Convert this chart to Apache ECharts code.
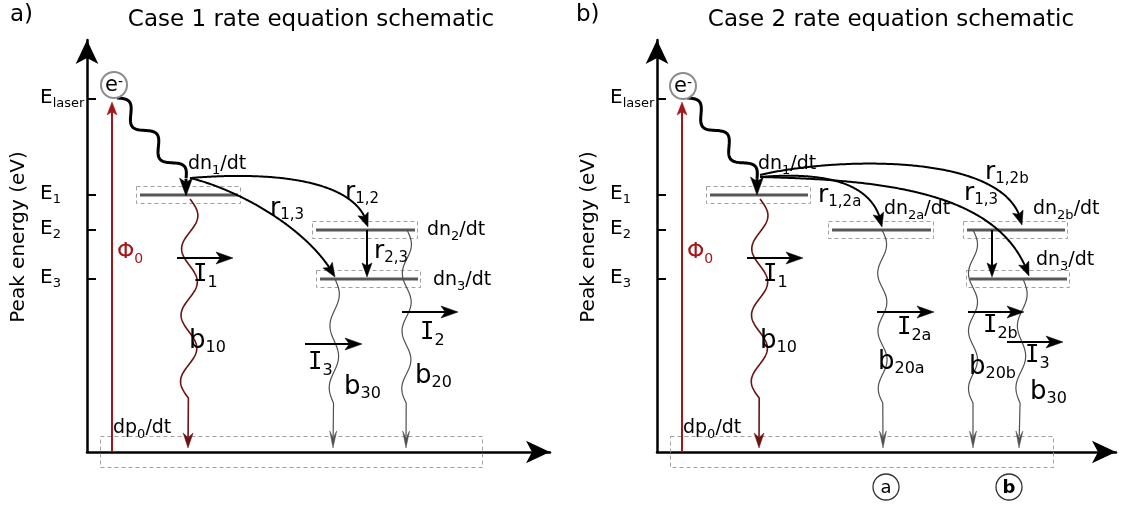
<!DOCTYPE html>
<html>
<head>
<meta charset="utf-8">
<title>Rate equation schematics</title>
<script src="https://cdn.jsdelivr.net/npm/echarts@6.0.0/dist/echarts.min.js"></script>
<style>
html,body{margin:0;padding:0;background:#fff;}
#chart{width:1122px;height:505px;}
</style>
</head>
<body>
<div id="chart"></div>
<script>
// ===================== DATA =====================
// schematic units: x = distance to the right of the energy axis,
//                  y = height (energy) above the baseline
const panelTitles = ['Case 1 rate equation schematic', 'Case 2 rate equation schematic'];
const panelLetters = ['a)', 'b)'];
const axisTitle = 'Peak energy (eV)';
const energyTickValues = [353, 257, 222, 173];
const energyTickLabels = ['E_{laser}', 'E_{1}', 'E_{2}', 'E_{3}'];

// ---- panel a (Case 1)
const levelsA = [[53, 151, 257], [229, 328, 222], [233, 331, 173]];          // [xStart, xEnd, energy]
const groundBoxA = [[13, 16, 395, -15]];
const pumpA = [[25, 0, 25, 350]];
const electronA = [[27, 367]];
const relaxWaveA = [[30, 354, 99, 273]];
const relaxHeadA = [[99, 273, 99, 256]];
const decayRedA = [[103, 253, 101, 4]];
const decayGreyA = [[248, 173, 246, 4], [320, 222, 319, 4]];
const fluxArrowsA = [[90, 194, 146, 194], [218, 108, 275, 108], [315, 140, 371, 140]];
const transferArrowsA = [[280, 222, 280, 175]];
const rateCurvesA = [
  [103, 274, 203, 282, 273, 267, 281, 225],
  [103, 274, 153, 262, 223, 222, 248, 175]
];
const dnTextA = ['dn_{1}/dt', 'dn_{2}/dt', 'dn_{3}/dt'];
const dnPosA = [[101, 289], [340, 223], [346, 173]];
const rateTextA = ['r_{1,2}', 'r_{1,3}', 'r_{2,3}'];
const ratePosA = [[258, 260], [183, 244], [287, 201]];
const bigTextA = ['I_{1}', 'b_{10}', 'I_{3}', 'b_{30}', 'I_{2}', 'b_{20}'];
const bigPosA = [[106, 175], [102, 110], [221, 87], [257, 64], [333, 117], [328, 75]];

// ---- panel b (Case 2)
const levelsB = [[53, 151, 257], [175, 274, 222], [310, 408, 222], [313, 410, 173]];
const groundBoxB = [[13, 16, 396, -15]];
const pumpB = [[25, 0, 25, 350]];
const electronB = [[26, 366]];
const relaxWaveB = [[30, 354, 100, 273]];
const relaxHeadB = [[100, 273, 100, 257]];
const decayRedB = [[103, 253, 102, 4]];
const decayGreyB = [[225, 222, 226, 4], [316, 222, 316, 4], [366, 173, 362, 4]];
const fluxArrowsB = [[90, 194, 146, 194], [220, 140, 277, 140], [311, 140, 367, 140], [350, 110, 406, 110]];
const transferArrowsB = [[335, 222, 335, 175]];
const rateCurvesB = [
  [103, 275, 163, 280, 218, 272, 225, 225],
  [103, 277, 173, 294, 353, 302, 365, 227],
  [103, 275, 223, 272, 343, 262, 372, 176]
];
const dnTextB = ['dn_{1}/dt', 'dn_{2a}/dt', 'dn_{2b}/dt', 'dn_{3}/dt'];
const dnPosB = [[101, 289], [227, 244], [376, 244], [379, 193]];
const rateTextB = ['r_{1,2a}', 'r_{1,3}', 'r_{1,2b}'];
const ratePosB = [[161, 257], [307, 259], [328, 280]];
const bigTextB = ['I_{1}', 'b_{10}', 'I_{2a}', 'b_{20a}', 'I_{2b}', 'b_{20b}', 'I_{3}', 'b_{30}'];
const bigPosB = [[106, 175], [103, 110], [240, 122], [221, 89], [326, 124], [312, 84], [368, 94], [373, 59]];
const pathMarkerText = ['a', 'b'];
const pathMarkerPos = [[229, -35], [352, -35]];

// shared labels
const phiText = ['Φ_{0}'];
const phiPos = [[30, 199]];
const dpText = ['dp_{0}/dt'];
const dpPos = [[26, 25]];
const electronText = ['e^{-}'];
const axisTitlePos = [[-67, 215]];

// ===================== RENDERING =====================
const FONT = "'DejaVu Sans', Verdana, sans-serif";
const RED = '#a3171b';
const DARKRED = '#6b1414';

function toRich(str, serifI) {
  let out = '', last = 0, m;
  const re = /([_^])\{([^}]*)\}/g;
  const main = t => serifI ? t.split('I').map(x => x ? '{m|' + x + '}' : '').join('{i|I}') : '{m|' + t + '}';
  while ((m = re.exec(str))) {
    if (m.index > last) out += main(str.slice(last, m.index));
    out += '{' + (m[1] === '_' ? 's' : 'p') + '|' + m[2] + '}';
    last = re.lastIndex;
  }
  if (last < str.length) out += main(str.slice(last));
  return out;
}
function richStyles(F, S, color, weight, zr) {
  const LH = Math.round(S + 5 + 0.7 * (F - S));
  const key = zr ? 'fill' : 'color';
  const mk = (size, lh, va, fam) => {
    const o = { fontSize: size, fontFamily: fam || FONT, lineHeight: lh, verticalAlign: va, fontWeight: weight || 'normal' };
    o[key] = color;
    return o;
  };
  return { m: mk(F, LH, 'top'), i: mk(F * 0.92, LH, 'top', "'DejaVu Sans Mono', monospace"), s: mk(S, S, 'bottom'), p: mk(S, S, 'top') };
}
function base(gi, z) {
  return { type: 'custom', coordinateSystem: 'cartesian2d', xAxisIndex: gi, yAxisIndex: gi,
    silent: true, animation: false, clip: false, z: z || 5 };
}
function head(tip, ux, uy, len, wid, notch, color) {
  const nx = -uy, ny = ux;
  const bx = tip[0] - ux * len, by = tip[1] - uy * len;
  const qx = tip[0] - ux * len * notch, qy = tip[1] - uy * len * notch;
  return { type: 'polygon', shape: { points: [tip, [bx + nx * wid / 2, by + ny * wid / 2], [qx, qy], [bx - nx * wid / 2, by - ny * wid / 2]] },
    style: { fill: color, stroke: color, lineWidth: 0.5 } };
}
function levelSeries(gi, data) {
  return Object.assign(base(gi, 3), { data, renderItem(p, api) {
    const a = api.coord([api.value(0), api.value(2)]), b = api.coord([api.value(1), api.value(2)]);
    return { type: 'group', children: [
      { type: 'rect', shape: { x: Math.round(a[0]) - 3.5, y: Math.round(a[1]) - 8.5, width: Math.round(b[0] - a[0]) + 6, height: 17 },
        style: { fill: 'none', stroke: '#a0a0a0', lineWidth: 1, lineDash: [4, 3] } },
      { type: 'line', shape: { x1: a[0], y1: a[1], x2: b[0], y2: b[1] }, style: { stroke: '#575757', lineWidth: 3.2 } }
    ] };
  } });
}
function boxSeries(gi, data) {
  return Object.assign(base(gi, 2), { data, renderItem(p, api) {
    const a = api.coord([api.value(0), api.value(1)]), b = api.coord([api.value(2), api.value(3)]);
    return { type: 'rect', shape: { x: Math.round(a[0]) + 0.5, y: Math.round(a[1]) + 0.5, width: Math.round(b[0] - a[0]), height: Math.round(b[1] - a[1]) },
      style: { fill: 'none', stroke: '#a0a0a0', lineWidth: 1, lineDash: [4, 3] } };
  } });
}
function arrowSeries(gi, data, o) {
  return Object.assign(base(gi, o.z || 6), { data, renderItem(p, api) {
    const a = api.coord([api.value(0), api.value(1)]), b = api.coord([api.value(2), api.value(3)]);
    const dx = b[0] - a[0], dy = b[1] - a[1], L = Math.hypot(dx, dy), ux = dx / L, uy = dy / L;
    const e = [b[0] - ux * o.len * 0.7, b[1] - uy * o.len * 0.7];
    return { type: 'group', children: [
      { type: 'line', shape: { x1: a[0], y1: a[1], x2: e[0], y2: e[1] }, style: { stroke: o.color, lineWidth: o.width } },
      head(b, ux, uy, o.len, o.wid, o.notch, o.color)
    ] };
  } });
}
function waveSeries(gi, data, o) {
  return Object.assign(base(gi, o.z || 4), { data, renderItem(p, api) {
    const a = api.coord([api.value(0), api.value(1)]), b = api.coord([api.value(2), api.value(3)]);
    const dx = b[0] - a[0], dy = b[1] - a[1], L = Math.hypot(dx, dy), ux = dx / L, uy = dy / L;
    const nx = -uy, ny = ux;
    const Lw = Math.max(10, L - o.tail);
    const n = Math.max(1, Math.round(Lw / (o.wl / 2)));
    const pts = [];
    for (let s = 0; s <= Lw; s += 1) {
      const off = o.sign * o.amp * Math.sin(Math.PI * n * s / Lw);
      pts.push([a[0] + ux * s + nx * off, a[1] + uy * s + ny * off]);
    }
    const endL = o.len ? L - o.len * 0.7 : L;
    if (endL > Lw) pts.push([a[0] + ux * endL, a[1] + uy * endL]);
    const ch = [{ type: 'polyline', shape: { points: pts }, style: { stroke: o.color, lineWidth: o.width, fill: 'none', lineJoin: 'round' } }];
    if (o.len) ch.push(head(b, ux, uy, o.len, o.wid, o.notch, o.color));
    return { type: 'group', children: ch };
  } });
}
function curveSeries(gi, data, o) {
  return Object.assign(base(gi, 6), { data, renderItem(p, api) {
    const P = [0, 2, 4, 6].map(i => api.coord([api.value(i), api.value(i + 1)]));
    const bez = t => {
      const u = 1 - t;
      const c = [u * u * u, 3 * u * u * t, 3 * u * t * t, t * t * t];
      return [c[0] * P[0][0] + c[1] * P[1][0] + c[2] * P[2][0] + c[3] * P[3][0],
              c[0] * P[0][1] + c[1] * P[1][1] + c[2] * P[2][1] + c[3] * P[3][1]];
    };
    const tip = P[3];
    const pts = [];
    let back = null;
    for (let i = 0; i <= 200; i++) {
      const q = bez(i / 200);
      const d = Math.hypot(q[0] - tip[0], q[1] - tip[1]);
      if (d < o.len && !back) back = q;
      if (d < o.len * 0.7) break;
      pts.push(q);
    }
    if (!back) back = P[2];
    const dx = tip[0] - back[0], dy = tip[1] - back[1], L = Math.hypot(dx, dy);
    return { type: 'group', children: [
      { type: 'polyline', shape: { points: pts }, style: { stroke: o.color, lineWidth: o.width, fill: 'none' } },
      head(tip, dx / L, dy / L, o.len, o.wid, o.notch, o.color)
    ] };
  } });
}
function textSeries(gi, pos, texts, o) {
  return Object.assign(base(gi, 10), { data: pos, renderItem(p, api) {
    const q = api.coord([api.value(0), api.value(1)]);
    return { type: 'text', x: q[0] + (o.dx || 0), y: q[1] + (o.dy || 0), rotation: o.rot || 0,
      style: { text: toRich(texts[p.dataIndex], o.serifI), rich: richStyles(o.F, o.S, o.color, o.weight, true),
        fill: o.color, fontSize: o.F, fontFamily: FONT, align: o.align || 'left', verticalAlign: 'middle' } };
  } });
}
function markerSeries(gi, pos, texts, o) {
  return Object.assign(base(gi, 9), { data: pos, renderItem(p, api) {
    const q = api.coord([api.value(0), api.value(1)]);
    const w = o.weights ? o.weights[p.dataIndex] : 'normal';
    return { type: 'group', children: [
      { type: 'circle', shape: { cx: q[0], cy: q[1], r: o.r }, style: { fill: '#fff', stroke: o.stroke, lineWidth: o.lw } },
      { type: 'text', x: q[0] + (o.dx || 0), y: q[1] + (o.dy || 0), style: { text: toRich(texts[p.dataIndex]),
        rich: richStyles(o.F, o.S, '#000', w, true), fill: '#000', fontSize: o.F, fontFamily: FONT,
        align: 'center', verticalAlign: 'middle' } }
    ] };
  } });
}

const styles = {
  pump: { color: RED, width: 2, len: 13, wid: 10, notch: 0.75 },
  flux: { color: '#000', width: 2, len: 17, wid: 12, notch: 0.75 },
  transfer: { color: '#000', width: 2, len: 14, wid: 10, notch: 0.8 },
  relaxHead: { color: '#000', width: 3, len: 18, wid: 13, notch: 0.75 },
  relaxWave: { color: '#000', width: 3, amp: 7, wl: 42, tail: 0, sign: -1 },
  decayRed: { color: DARKRED, width: 1.6, amp: 8, wl: 68, tail: 50, sign: -1, len: 15, wid: 10, notch: 0.7 },
  decayGrey: { color: '#505050', width: 1.2, amp: 4.5, wl: 60, tail: 45, sign: -1, len: 17, wid: 7, notch: 0.6 },
  curve: { color: '#000', width: 2, len: 14, wid: 11, notch: 0.8 },
  dn: { F: 19, S: 13, color: '#000', dy: 3 },
  rate: { F: 25, S: 15, color: '#000', dy: 1 },
  big: { F: 26, S: 16, color: '#000', serifI: true },
  phi: { F: 22, S: 14, color: RED, dy: 1 },
  dp: { F: 19, S: 13, color: '#000', dy: 3 },
  axisTitle: { F: 20, S: 14, color: '#000', rot: Math.PI / 2, align: 'center' },
  electron: { r: 13, stroke: '#8c8c8c', lw: 2, F: 21, S: 14, dy: 2 },
  pathMarker: { r: 13, stroke: '#333', lw: 1.3, F: 18, S: 12, dy: 3, weights: ['normal', 'bold'] }
};

function panelSeries(gi, d) {
  return [
    boxSeries(gi, d.ground),
    levelSeries(gi, d.levels),
    arrowSeries(gi, d.pump, styles.pump),
    waveSeries(gi, d.relaxWave, styles.relaxWave),
    arrowSeries(gi, d.relaxHead, styles.relaxHead),
    waveSeries(gi, d.decayRed, styles.decayRed),
    waveSeries(gi, d.decayGrey, styles.decayGrey),
    arrowSeries(gi, d.flux, styles.flux),
    arrowSeries(gi, d.transfer, styles.transfer),
    curveSeries(gi, d.curves, styles.curve),
    markerSeries(gi, d.electron, electronText, styles.electron),
    textSeries(gi, d.dnPos, d.dnText, styles.dn),
    textSeries(gi, d.ratePos, d.rateText, styles.rate),
    textSeries(gi, d.bigPos, d.bigText, styles.big),
    textSeries(gi, phiPos, phiText, styles.phi),
    textSeries(gi, dpPos, dpText, styles.dp),
    textSeries(gi, axisTitlePos, [axisTitle], styles.axisTitle)
  ];
}

const seriesA = panelSeries(0, { ground: groundBoxA, levels: levelsA, pump: pumpA, relaxWave: relaxWaveA, relaxHead: relaxHeadA,
  decayRed: decayRedA, decayGrey: decayGreyA, flux: fluxArrowsA, transfer: transferArrowsA, curves: rateCurvesA,
  electron: electronA, dnPos: dnPosA, dnText: dnTextA, ratePos: ratePosA, rateText: rateTextA, bigPos: bigPosA, bigText: bigTextA });
const seriesB = panelSeries(1, { ground: groundBoxB, levels: levelsB, pump: pumpB, relaxWave: relaxWaveB, relaxHead: relaxHeadB,
  decayRed: decayRedB, decayGrey: decayGreyB, flux: fluxArrowsB, transfer: transferArrowsB, curves: rateCurvesB,
  electron: electronB, dnPos: dnPosB, dnText: dnTextB, ratePos: ratePosB, rateText: rateTextB, bigPos: bigPosB, bigText: bigTextB });
seriesB.push(markerSeries(1, pathMarkerPos, pathMarkerText, styles.pathMarker));

// axes run from the baseline to the arrow tips
const grids = [
  { left: 87, top: 40, right: 572, bottom: 53 },
  { left: 657, top: 40, right: 6, bottom: 53 }
];
function xAxisFor(gi, max) {
  return { gridIndex: gi, type: 'value', min: 0, max: max,
    axisLine: { show: true, symbol: ['none', 'arrow'], symbolSize: [17, 24], lineStyle: { color: '#000', width: 2.5 } },
    axisTick: { show: false }, axisLabel: { show: false }, splitLine: { show: false } };
}
function yAxisFor(gi) {
  return { gridIndex: gi, type: 'value', min: 0, max: 412,
    axisLine: { show: true, symbol: ['none', 'arrow'], symbolSize: [17, 24], lineStyle: { color: '#000', width: 2.5 } },
    axisTick: { show: true, inside: true, length: 9, customValues: energyTickValues, lineStyle: { color: '#000', width: 2 } },
    axisLabel: { show: true, customValues: energyTickValues, align: 'left', margin: 47,
      formatter: v => { const i = energyTickValues.indexOf(v); return i < 0 ? '' : toRich(energyTickLabels[i]); },
      rich: richStyles(20, 13, '#000', 'normal', false) },
    splitLine: { show: false } };
}
const titleStyle = { fontSize: 23, fontWeight: 'normal', fontFamily: FONT, color: '#000' };
const option = {
  animation: false,
  backgroundColor: '#fff',
  textStyle: { fontFamily: FONT },
  title: [
    { text: panelLetters[0], left: 10, top: 4, padding: 0, textStyle: titleStyle },
    { text: panelTitles[0], left: 311, top: 9, padding: 0, textAlign: 'center', textStyle: titleStyle },
    { text: panelLetters[1], left: 576, top: 4, padding: 0, textStyle: titleStyle },
    { text: panelTitles[1], left: 891, top: 9, padding: 0, textAlign: 'center', textStyle: titleStyle }
  ],
  grid: grids,
  xAxis: [xAxisFor(0, 463), xAxisFor(1, 459)],
  yAxis: [yAxisFor(0), yAxisFor(1)],
  series: seriesA.concat(seriesB)
};
const chart = echarts.init(document.getElementById('chart'), null, { renderer: 'canvas' });
chart.setOption(option);
</script>
</body>
</html>
